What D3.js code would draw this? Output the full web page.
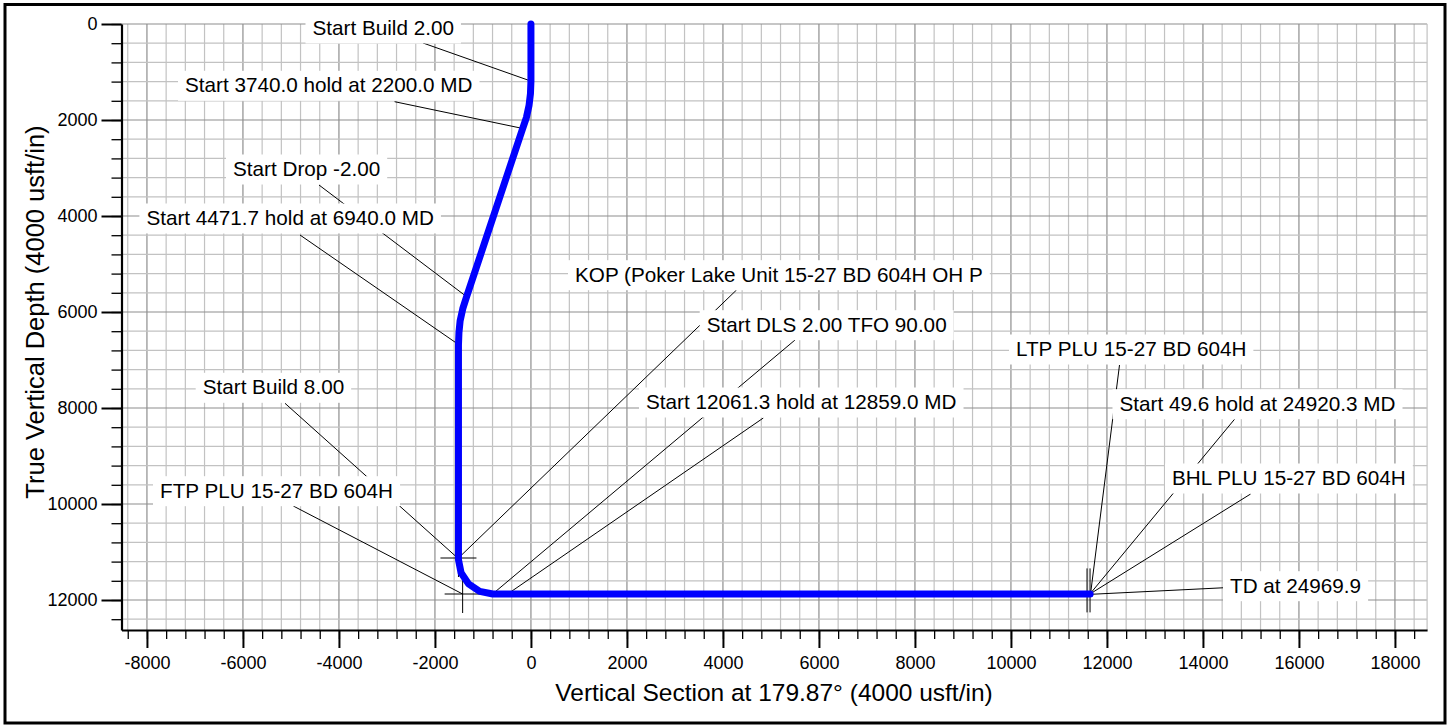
<!DOCTYPE html>
<html>
<head>
<meta charset="utf-8">
<style>
body { margin: 0; background: #fff; }
svg { display: block; font-family: "Liberation Sans", Arial, sans-serif; }
.grid-minor { stroke: #c2c2c2; stroke-width: 1.2; }
.grid-major { stroke: #8e8e8e; stroke-width: 1.2; }
.leader { stroke: #000; stroke-width: 1; }
.lbl-box { fill: #fff; }
.lbl { font-size: 20.7px; fill: #000; }
</style>
</head>
<body>
<svg width="1448" height="727"></svg>
<script src="https://cdn.jsdelivr.net/npm/d3@7"></script>
<script>
// well path (vertical section, TVD)
var wellVS  = [0, 0, -10, -40, -95, -180, -1340, -1420, -1475, -1500, -1510, -1510, -1456, -1300, -1068, -794, 11650];
var wellTVD = [0, 1190, 1450, 1700, 1950, 2200, 5680, 5930, 6180, 6430, 6690, 11159, 11433, 11665, 11820, 11875, 11875];

// annotation texts and the points they point at
var labelTexts = [
  "Start Build 2.00",
  "Start 3740.0 hold at 2200.0 MD",
  "Start Drop -2.00",
  "Start 4471.7 hold at 6940.0 MD",
  "KOP (Poker Lake Unit 15-27 BD 604H OH P",
  "Start DLS 2.00 TFO 90.00",
  "Start 12061.3 hold at 12859.0 MD",
  "Start Build 8.00",
  "FTP PLU 15-27 BD 604H",
  "LTP PLU 15-27 BD 604H",
  "Start 49.6 hold at 24920.3 MD",
  "BHL PLU 15-27 BD 604H",
  "TD at 24969.9"
];
var labelVS  = [0, -188, -1340, -1494, -1510, -806, -494, -1510, -1423, 11660, 11646, 11646, 11675];
var labelTVD = [1190, 2173, 5681, 6688, 11125, 11881, 11881, 11140, 11875, 11860, 11875, 11875, 11881];

// target markers
var targetVS  = [-1510, -1423, 11585, 11648];
var targetTVD = [11125, 11875, 11800, 11800];

// tick values
var xMajorTicks = d3.range(-8000, 18001, 2000);
var xMinorTicks = d3.range(-8400, 18601, 400);
var yMajorTicks = d3.range(0, 12001, 2000);
var yMinorTicks = d3.range(0, 12401, 400);

// label layout: [text left, baseline, leader start x, leader start y]
var labelPos = [
  [312.5, 35, 423, 43],
  [185, 92.3, 394.6, 101.7],
  [233, 176, 319, 185],
  [146.4, 225, 300, 235],
  [575, 281.7, 736.5, 290],
  [706.7, 331.7, 795, 340],
  [646, 409, 763.3, 418],
  [202.7, 394.3, 285, 403.3],
  [160, 497.7, 293.3, 506],
  [1016, 356, 1119.5, 365],
  [1119.5, 410.7, 1234.5, 419.3],
  [1172, 485, 1250.6, 494],
  [1230, 592.7, 1225, 587.7]
];
var targetShape = ["cross", "cross", "v", "v"];

var svg = d3.select("svg");

var x = d3.scaleLinear().domain([-8530, 18670]).range([121.5, 1427.1]);
var y = d3.scaleLinear().domain([0, 12625]).range([24, 630]);

// outer frame
svg.append("rect")
    .attr("x", 5).attr("y", 4.5).attr("width", 1440).attr("height", 718.5)
    .attr("fill", "none").attr("stroke", "#000").attr("stroke-width", 3);

// grid
var grid = svg.append("g");
xMinorTicks.forEach(function(v) {
  grid.append("line")
    .attr("class", v % 2000 === 0 ? "grid-major" : "grid-minor")
    .attr("x1", x(v)).attr("x2", x(v)).attr("y1", y(0)).attr("y2", y(12625));
});
yMinorTicks.forEach(function(v) {
  grid.append("line")
    .attr("class", v % 2000 === 0 ? "grid-major" : "grid-minor")
    .attr("x1", x(-8530)).attr("x2", x(18670)).attr("y1", y(v)).attr("y2", y(v));
});
grid.append("line").attr("class", "grid-minor")
    .attr("x1", x(18670)).attr("x2", x(18670)).attr("y1", y(0)).attr("y2", y(12625));

var fmt = function(d) { return String(d); };

// axes
var xMinorAxis = svg.append("g")
    .attr("transform", "translate(0," + y(12625) + ")")
    .call(d3.axisBottom(x).tickValues(xMinorTicks).tickSize(9).tickSizeOuter(0).tickFormat(""));
xMinorAxis.selectAll(".tick line").attr("stroke-width", 1.3);
xMinorAxis.select(".domain").attr("stroke-width", 2.2);

var xMajorAxis = svg.append("g")
    .attr("transform", "translate(0," + y(12625) + ")")
    .call(d3.axisBottom(x).tickValues(xMajorTicks).tickSize(18).tickSizeOuter(0).tickPadding(8).tickFormat(fmt));
xMajorAxis.select(".domain").remove();
xMajorAxis.selectAll(".tick line").attr("stroke-width", 2);
xMajorAxis.selectAll("text").attr("font-size", "18px").attr("font-family", "Liberation Sans, Arial, sans-serif").attr("fill", "#000");

var yMinorAxis = svg.append("g")
    .attr("transform", "translate(" + x(-8530) + ",0)")
    .call(d3.axisLeft(y).tickValues(yMinorTicks).tickSize(10).tickSizeOuter(0).tickFormat(""));
yMinorAxis.selectAll(".tick line").attr("stroke-width", 1.3);
yMinorAxis.select(".domain").attr("stroke-width", 2.2);

var yMajorAxis = svg.append("g")
    .attr("transform", "translate(" + x(-8530) + ",0)")
    .call(d3.axisLeft(y).tickValues(yMajorTicks).tickSize(20).tickSizeOuter(0).tickPadding(4).tickFormat(fmt));
yMajorAxis.select(".domain").remove();
yMajorAxis.selectAll(".tick line").attr("stroke-width", 2);
yMajorAxis.selectAll("text").attr("font-size", "18px").attr("font-family", "Liberation Sans, Arial, sans-serif").attr("fill", "#000");

// axis titles
svg.append("text")
    .attr("x", 774).attr("y", 700.5)
    .attr("text-anchor", "middle")
    .attr("font-size", "24.5px")
    .text("Vertical Section at 179.87\u00b0 (4000 usft/in)");

svg.append("text")
    .attr("transform", "translate(44,312) rotate(-90)")
    .attr("text-anchor", "middle")
    .attr("font-size", "25.5px")
    .text("True Vertical Depth (4000 usft/in)");

// leader lines
labelTexts.forEach(function(t, i) {
  svg.append("line").attr("class", "leader")
    .attr("x1", labelPos[i][2]).attr("y1", labelPos[i][3])
    .attr("x2", x(labelVS[i])).attr("y2", y(labelTVD[i]));
});

// target markers
targetVS.forEach(function(v, i) {
  var cx = x(v), cy = y(targetTVD[i]);
  if (targetShape[i] === "cross") {
    svg.append("line").attr("class", "leader").attr("x1", cx - 18).attr("x2", cx + 18).attr("y1", cy).attr("y2", cy);
    svg.append("line").attr("class", "leader").attr("x1", cx).attr("x2", cx).attr("y1", cy - 19).attr("y2", cy + 19);
  } else {
    svg.append("line").attr("class", "leader").attr("stroke-width", 1.5)
      .attr("x1", cx).attr("x2", cx).attr("y1", cy - 22).attr("y2", cy + 22);
  }
});

// well path
var wellData = wellVS.map(function(v, i) { return [v, wellTVD[i]]; });
var line = d3.line()
    .x(function(d) { return x(d[0]); })
    .y(function(d) { return y(d[1]); });

svg.append("path")
    .datum(wellData)
    .attr("d", line)
    .attr("fill", "none")
    .attr("stroke", "#0000ff")
    .attr("stroke-width", 7)
    .attr("stroke-linecap", "round")
    .attr("stroke-linejoin", "round");

// labels with white boxes
labelTexts.forEach(function(t, i) {
  var g = svg.append("g");
  var rect = g.append("rect").attr("class", "lbl-box");
  var txt = g.append("text").attr("class", "lbl")
      .attr("x", labelPos[i][0]).attr("y", labelPos[i][1])
      .text(t);
  var w = txt.node().getComputedTextLength();
  rect.attr("x", labelPos[i][0] - 7).attr("y", labelPos[i][1] - 21.5)
      .attr("width", w + 14).attr("height", 30);
});
</script>
</body>
</html>
